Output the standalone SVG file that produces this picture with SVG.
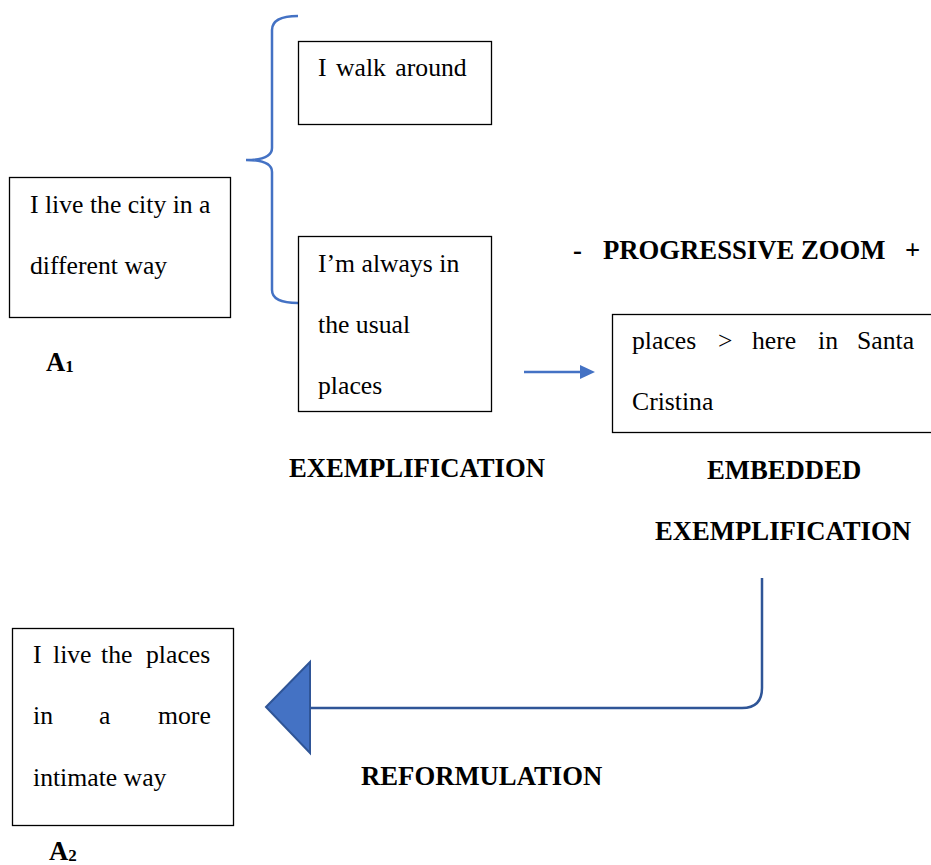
<svg xmlns="http://www.w3.org/2000/svg" width="931" height="865" viewBox="0 0 931 865">
<style>
.box{fill:#fff;stroke:#000;stroke-width:1.3}
.t{font-family:"Liberation Serif","Times New Roman",serif;font-size:25.7px;fill:#000}
.b{font-family:"Liberation Serif","Times New Roman",serif;font-size:26.7px;font-weight:bold;fill:#000}
.blue{fill:none;stroke:#4472C4;stroke-width:2.5}
</style>
<rect width="931" height="865" fill="#fff"/>
<g id="connectors">
<path class="blue" d="M298,16 Q272,16 272,30 L272,148 Q272,160 246,160 Q272,160 272,172 L272,290 Q272,303 298,303"/>
<line x1="524" y1="372" x2="582" y2="372" stroke="#4472C4" stroke-width="2.5"/>
<polygon points="595,372 580,365 580,379" fill="#4472C4"/>
<path d="M762,578 L762,688 Q762,708 742,708 L310,708" fill="none" stroke="#2F5597" stroke-width="2.5"/>
<polygon points="266,707 310,662 310,753" fill="#4472C4" stroke="#2F5597" stroke-width="2"/>
</g>
<g id="nodeA1">
<rect class="box" x="9.5" y="177.5" width="221" height="140"/>
<text class="t" x="30" y="213">I live the city in a</text>
<text class="t" x="30" y="274">different way</text>
</g>
<g id="labelA1"><text class="b" x="46" y="371">A<tspan font-size="17" dy="1">1</tspan></text></g>
<g id="nodeWalk">
<rect class="box" x="298.5" y="41.5" width="193" height="83"/>
<text class="t" x="318" y="76" word-spacing="3">I walk around</text>
</g>
<g id="nodeUsual">
<rect class="box" x="298.5" y="236.5" width="193" height="175"/>
<text class="t" x="318" y="272">I’m always in</text>
<text class="t" x="318" y="333">the usual</text>
<text class="t" x="318" y="394">places</text>
</g>
<g id="labelExemp"><text class="b" x="289" y="477">EXEMPLIFICATION</text></g>
<g id="labelZoom">
<text class="b" x="573" y="259">-</text>
<text class="b" x="603" y="259">PROGRESSIVE ZOOM</text>
<text class="b" x="905" y="259">+</text>
</g>
<g id="nodeSanta">
<rect class="box" x="612.5" y="314.5" width="330" height="118"/>
<text class="t" x="632" y="349">places</text>
<text class="t" x="718" y="349">&gt;</text>
<text class="t" x="752" y="349">here</text>
<text class="t" x="818" y="349">in</text>
<text class="t" x="857" y="349">Santa</text>
<text class="t" x="632" y="410">Cristina</text>
</g>
<g id="labelEmbedded">
<text class="b" x="707" y="479">EMBEDDED</text>
<text class="b" x="655" y="540">EXEMPLIFICATION</text>
</g>
<g id="nodeA2">
<rect class="box" x="12.5" y="628.5" width="221" height="197"/>
<text class="t" x="33" y="663">I</text>
<text class="t" x="53" y="663">live</text>
<text class="t" x="101" y="663">the</text>
<text class="t" x="146" y="663">places</text>
<text class="t" x="33" y="724">in</text>
<text class="t" x="99" y="724">a</text>
<text class="t" x="158" y="724">more</text>
<text class="t" x="33" y="786">intimate way</text>
</g>
<g id="labelA2"><text class="b" x="49" y="860">A<tspan font-size="17" dy="1">2</tspan></text></g>
<g id="labelReform"><text class="b" x="361" y="785">REFORMULATION</text></g>
</svg>
